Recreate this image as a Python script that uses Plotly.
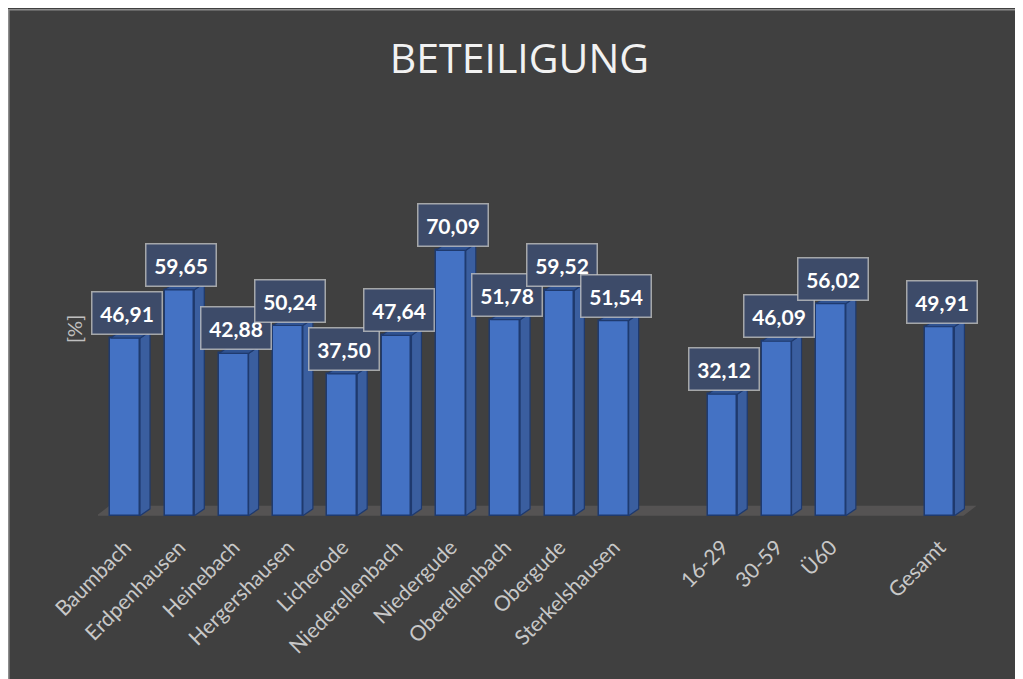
import plotly.graph_objects as go

# ---------------- data ----------------
categories = ["Baumbach", "Erdpenhausen", "Heinebach", "Hergershausen", "Licherode",
              "Niederellenbach", "Niedergude", "Oberellenbach", "Obergude", "Sterkelshausen",
              "16-29", "30-59", "Ü60", "Gesamt"]
positions = [0, 1, 2, 3, 4, 5, 6, 7, 8, 9, 11, 12, 13, 15]
values = [46.91, 59.65, 42.88, 50.24, 37.50, 47.64, 70.09, 51.78, 59.52, 51.54,
          32.12, 46.09, 56.02, 49.91]
title_text = "BETEILIGUNG"
y_title = "[%]"

# ---------------- layout geometry (figure pixels; page adds 8px body margin) ----------------
W, H = 1015, 671
ML, MR, MT, MB = 90, 40, 129, 162
XR = [-0.5, 15.8]
YR = [-0.3, 100]
PW = W - ML - MR
PH = H - MT - MB

def px_to_paper_x(px):
    return (px - ML) / PW

def px_to_paper_y(py):
    return (H - MB - py) / PH

ux = PW / (XR[1] - XR[0])   # px per x unit
uy = PH / (YR[1] - YR[0])   # px per y unit
bw = 0.547
dx = 10 / ux
dy = 7 / uy

front = "#4472C4"
side = "#3a5e9f"
topc = "#2f5291"
edge = "#1f3a6e"

fig = go.Figure()

sx, sy, tx, ty = [], [], [], []
for p, v in zip(positions, values):
    r = p + bw / 2
    l = p - bw / 2
    sx += [r, r + dx, r + dx, r, r, None]
    sy += [0, dy, v + dy, v, 0, None]
    tx += [l, r, r + dx, l + dx, l, None]
    ty += [v, v, v + dy, v + dy, v, None]

fig.add_trace(go.Bar(x=positions, y=values, width=bw,
                     marker=dict(color=front, line=dict(color=edge, width=1.5)),
                     hoverinfo="skip", showlegend=False))
fig.add_trace(go.Scatter(x=sx, y=sy, mode="lines", fill="toself", fillcolor=side,
                         line=dict(color=edge, width=1.2), hoverinfo="skip", showlegend=False))
fig.add_trace(go.Scatter(x=tx, y=ty, mode="lines", fill="toself", fillcolor=topc,
                         line=dict(color=edge, width=1.2), hoverinfo="skip", showlegend=False))

# floor
fl = XR[0] - 0.03
fr = 15.44
fdx = 13 / ux
fdy = 10 / uy
floor_path = f"M {fl},0 L {fr},0 L {fr + fdx},{fdy} L {fl + fdx},{fdy} Z"
shapes = [dict(type="path", xref="x", yref="y", path=floor_path,
               fillcolor="#555353", line=dict(width=0), layer="below")]

# chart frame line (left & top)
shapes.append(dict(type="line", xref="paper", yref="paper",
                   x0=px_to_paper_x(0.8), x1=px_to_paper_x(0.8), y0=px_to_paper_y(H + 2), y1=px_to_paper_y(1.3),
                   line=dict(color="#8c8c8c", width=1.6), layer="above"))
shapes.append(dict(type="line", xref="paper", yref="paper",
                   x0=px_to_paper_x(0), x1=px_to_paper_x(W + 2), y0=px_to_paper_y(1.8), y1=px_to_paper_y(1.8),
                   line=dict(color="#8c8c8c", width=1.6), layer="above"))

# value labels
annotations = []
for p, v in zip(positions, values):
    annotations.append(dict(x=p, y=v, xref="x", yref="y", text=f"{v:.2f}".replace(".", ","),
                            showarrow=False, yanchor="bottom", yshift=3, xshift=2,
                            font=dict(family="Lato", size=21, color="white", weight="bold"),
                            bgcolor="#3d4b69", bordercolor="rgba(200,200,200,0.75)",
                            borderwidth=1.5, borderpad=3, width=63, height=35))

annotations.append(dict(x=px_to_paper_x(66), y=px_to_paper_y(321), xref="paper", yref="paper",
                        xanchor="center", yanchor="middle",
                        text=y_title, showarrow=False, textangle=-90,
                        font=dict(family="Lato", size=20, color="#bfbfbf")))

fig.update_layout(
    width=W, height=H,
    margin=dict(l=ML, r=MR, t=MT, b=MB, pad=0),
    paper_bgcolor="#404040", plot_bgcolor="#404040",
    title=dict(text=title_text, x=511.5 / W, xanchor="center",
               y=1 - 51 / H, yanchor="middle", yref="container", xref="container",
               font=dict(family="Open Sans", size=41, color="#f2f2f2")),
    xaxis=dict(range=XR, tickmode="array", tickvals=positions, ticktext=categories,
               tickangle=-45, showgrid=False, zeroline=False, showline=False, ticks="",
               ticklabelstandoff=13,
               tickfont=dict(family="Lato", size=21, color="#c8c8c8"), fixedrange=True),
    yaxis=dict(range=YR, showgrid=False, zeroline=False, showline=False, showticklabels=False,
               ticks="", fixedrange=True),
    shapes=shapes, annotations=annotations, showlegend=False, bargap=0,
)

fig.write_html("out.html")
